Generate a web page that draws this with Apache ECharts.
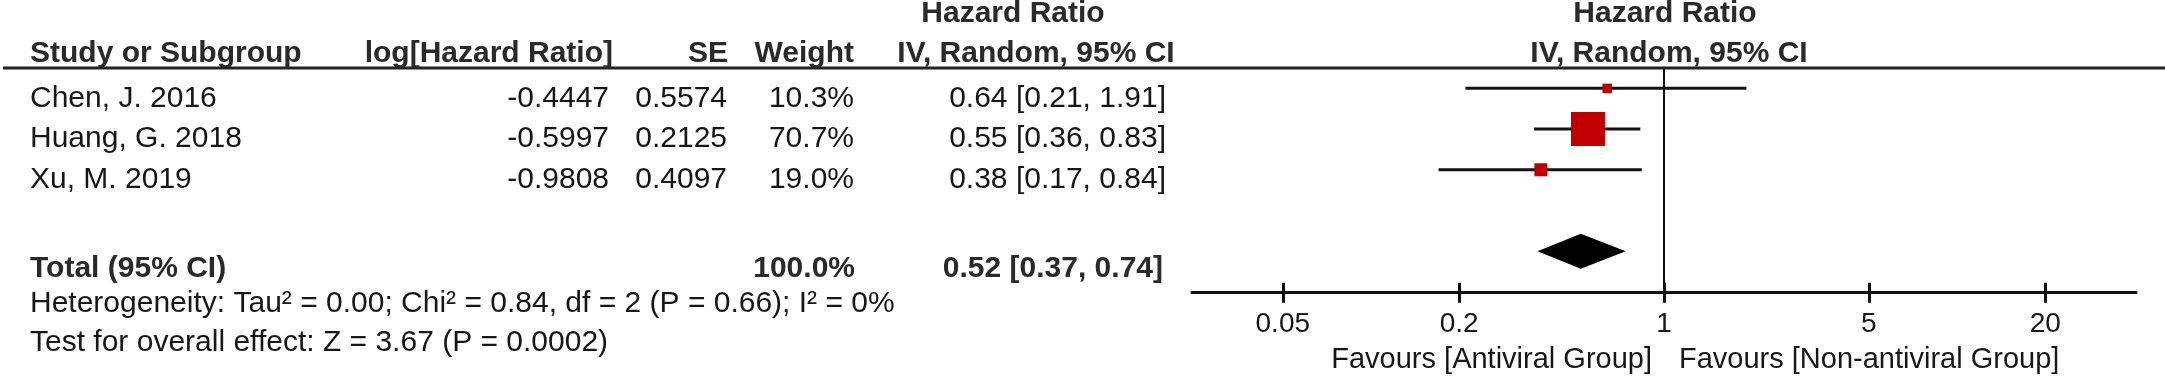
<!DOCTYPE html>
<html>
<head>
<meta charset="utf-8">
<title>Forest plot</title>
<script src="https://cdn.jsdelivr.net/npm/echarts@6/dist/echarts.min.js"></script>
<style>
  html, body { margin: 0; padding: 0; background: #fff; }
  #chart { width: 2165px; height: 381px; }
</style>
</head>
<body>
<div id="chart"></div>
<script>
// study data
const studyNames = ['Chen, J. 2016', 'Huang, G. 2018', 'Xu, M. 2019']
const logHR = [-0.4447, -0.5997, -0.9808]
const se = [0.5574, 0.2125, 0.4097]
const weight = [10.3, 70.7, 19.0]
const hr = [0.64, 0.55, 0.38]
const ciLow = [0.21, 0.36, 0.17]
const ciHigh = [1.91, 0.83, 0.84]
const studyRows = [1, 2, 3]

// pooled
const totalWeight = 100.0
const totalHR = 0.52
const totalLow = 0.37
const totalHigh = 0.74
const totalRow = 5

const tickValues = [0.05, 0.2, 1, 5, 20]
const heterogeneity = 'Heterogeneity: Tau² = 0.00; Chi² = 0.84, df = 2 (P = 0.66); I² = 0%'
const overallTest = 'Test for overall effect: Z = 3.67 (P = 0.0002)'

const FONT = '"Liberation Sans", Arial, Helvetica, sans-serif'
const TXT = '#161616'
const BOLD = '#2a2a2a'
const lg = v => Math.log10(v)
const tickLogs = tickValues.map(lg)

// table columns (pixel x, alignment)
const cols = [
  { x: 30, align: 'left' },
  { x: 609, align: 'right' },
  { x: 727, align: 'right' },
  { x: 854, align: 'right' },
  { x: 1166, align: 'right' }
]

function txt(x, y, text, opts = {}) {
  const align = opts.align || 'left'
  return {
    type: 'text',
    x: x,
    y: y,
    silent: true,
    style: {
      text: text,
      fontSize: opts.size || 30,
      fontFamily: FONT,
      fontWeight: opts.bold ? 'bold' : 'normal',
      fill: opts.color || (opts.bold ? BOLD : TXT),
      align: align,
      textAlign: align,
      verticalAlign: 'middle',
      textVerticalAlign: 'middle'
    }
  }
}

const ciText = (h, l, u) => h.toFixed(2) + ' [' + l.toFixed(2) + ', ' + u.toFixed(2) + ']'

const chart = echarts.init(document.getElementById('chart'))

chart.setOption({
  animation: false,
  backgroundColor: '#fff',
  grid: { left: 1192, top: 68, width: 944, height: 224.7 },
  xAxis: [
    {
      type: 'value',
      min: lg(0.0245),
      max: lg(40.8),
      splitLine: { show: false },
      axisLine: { show: true, lineStyle: { color: '#111', width: 3 } },
      axisTick: { show: true, length: 10, customValues: tickLogs, lineStyle: { color: '#111', width: 3 } },
      axisLabel: {
        customValues: tickLogs,
        margin: 18,
        fontSize: 28,
        fontFamily: FONT,
        color: TXT,
        formatter: v => {
          const t = tickValues.find(k => Math.abs(lg(k) - v) < 1e-6)
          return t === undefined ? '' : String(t)
        }
      }
    },
    {
      // upper half of the crossing ticks
      type: 'value',
      position: 'bottom',
      min: lg(0.0245),
      max: lg(40.8),
      splitLine: { show: false },
      axisLine: { show: false },
      axisTick: { show: true, inside: true, length: 10, customValues: tickLogs, lineStyle: { color: '#111', width: 3 } },
      axisLabel: { show: false }
    }
  ],
  yAxis: { type: 'value', inverse: true, min: 0.5, max: 6.02, show: false },
  graphic: [
    { type: 'line', silent: true, shape: { x1: 3, y1: 68, x2: 2165, y2: 68 }, style: { stroke: '#222', lineWidth: 3 } },
    txt(30, 53.5, 'Study or Subgroup', { bold: true }),
    txt(613, 53.5, 'log[Hazard Ratio]', { bold: true, align: 'right' }),
    txt(728, 53.5, 'SE', { bold: true, align: 'right' }),
    txt(854, 53.5, 'Weight', { bold: true, align: 'right' }),
    txt(1013, 13.5, 'Hazard Ratio', { bold: true, align: 'center' }),
    txt(1036, 53.5, 'IV, Random, 95% CI', { bold: true, align: 'center' }),
    txt(1665, 13.5, 'Hazard Ratio', { bold: true, align: 'center' }),
    txt(1669, 53.5, 'IV, Random, 95% CI', { bold: true, align: 'center' }),
    txt(30, 303.5, heterogeneity),
    txt(30, 342.5, overallTest),
    txt(1652, 360, 'Favours [Antiviral Group]', { size: 29, align: 'right' }),
    txt(1679, 360, 'Favours [Non-antiviral Group]', { size: 29 })
  ],
  series: [
    {
      name: 'studies',
      type: 'custom',
      clip: false,
      data: studyNames.map((n, i) => [lg(hr[i]), studyRows[i], lg(ciLow[i]), lg(ciHigh[i]), weight[i]]),
      encode: { x: [0, 2, 3], y: 1 },
      renderItem: (params, api) => {
        const row = api.value(1)
        const c = api.coord([api.value(0), row])
        const lo = api.coord([api.value(2), row])
        const hi = api.coord([api.value(3), row])
        const s = 5.3 + 0.406 * api.value(4) // box grows with weight
        return {
          type: 'group',
          children: [
            { type: 'line', shape: { x1: lo[0], y1: c[1], x2: hi[0], y2: c[1] }, style: { stroke: '#111', lineWidth: 3 } },
            { type: 'rect', shape: { x: c[0] - s / 2, y: c[1] - s / 2, width: s, height: s }, style: { fill: '#c00000' } }
          ]
        }
      },
      markLine: {
        silent: true,
        symbol: 'none',
        label: { show: false },
        lineStyle: { color: '#111', width: 2, type: 'solid' },
        data: [{ xAxis: 0 }]
      }
    },
    {
      name: 'table',
      type: 'custom',
      clip: false,
      data: studyRows.map(r => [0, r]),
      renderItem: (params, api) => {
        const i = params.dataIndex
        const y = api.coord([0, api.value(1)])[1] + 10
        const vals = [
          studyNames[i],
          logHR[i].toFixed(4),
          se[i].toFixed(4),
          weight[i].toFixed(1) + '%',
          ciText(hr[i], ciLow[i], ciHigh[i])
        ]
        return {
          type: 'group',
          children: vals.map((v, k) => txt(cols[k].x, y, v, { align: cols[k].align }))
        }
      }
    },
    {
      name: 'total',
      type: 'custom',
      clip: false,
      data: [[lg(totalHR), totalRow, lg(totalLow), lg(totalHigh)]],
      encode: { x: [0, 2, 3], y: 1 },
      renderItem: (params, api) => {
        const row = api.value(1)
        const c = api.coord([api.value(0), row])
        const lo = api.coord([api.value(2), row])
        const hi = api.coord([api.value(3), row])
        const h = 17.5
        const y = c[1] + 18
        return {
          type: 'group',
          children: [
            {
              type: 'polygon',
              shape: { points: [[lo[0], c[1]], [c[0], c[1] - h], [hi[0], c[1]], [c[0], c[1] + h]] },
              style: { fill: '#000' }
            },
            txt(cols[0].x, y, 'Total (95% CI)', { bold: true }),
            txt(cols[3].x + 1, y, totalWeight.toFixed(1) + '%', { bold: true, align: 'right' }),
            txt(cols[4].x - 3, y, ciText(totalHR, totalLow, totalHigh), { bold: true, align: 'right' })
          ]
        }
      }
    }
  ]
})
</script>
</body>
</html>
